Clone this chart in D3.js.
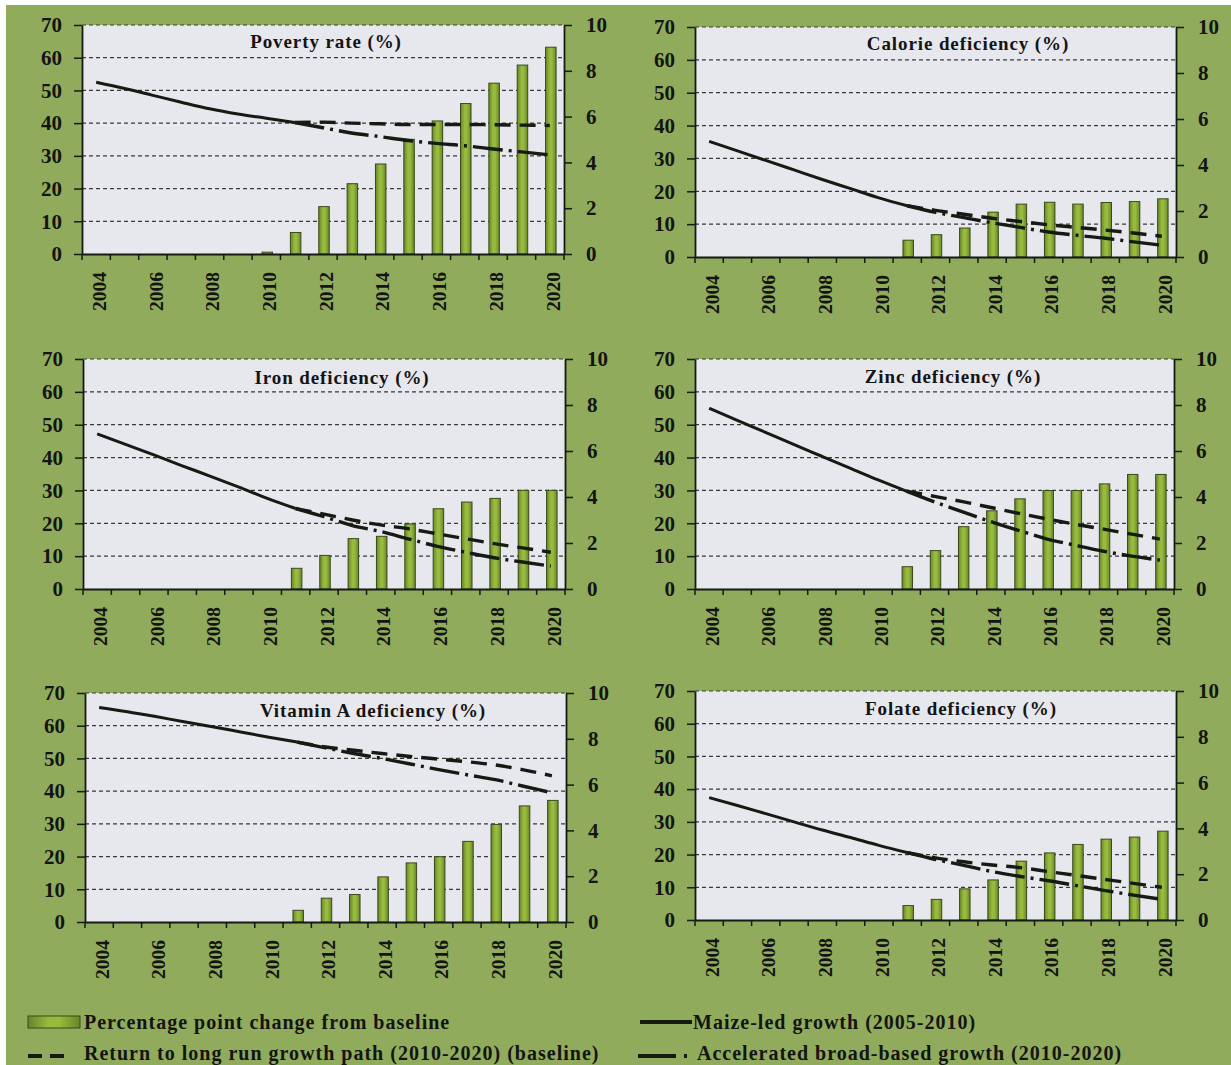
<!DOCTYPE html>
<html>
<head>
<meta charset="utf-8">
<script src="https://cdn.jsdelivr.net/npm/d3@7/dist/d3.min.js"></script>
<style>
  html, body { margin: 0; padding: 0; background: #ffffff; }
  svg { display: block; }
  text { font-family: "Liberation Serif", "DejaVu Serif", serif; font-weight: bold; fill: #141414; }
</style>
</head>
<body>
<svg id="chart" width="1231" height="1065"></svg>
<script>
// ---- categories and tick labels ----
const years = [2004, 2005, 2006, 2007, 2008, 2009, 2010, 2011, 2012, 2013, 2014, 2015, 2016, 2017, 2018, 2019, 2020];
const yearLabels = [2004, 2006, 2008, 2010, 2012, 2014, 2016, 2018, 2020];
const leftTicks = [0, 10, 20, 30, 40, 50, 60, 70];
const rightTicks = [0, 2, 4, 6, 8, 10];

const titles = ["Poverty rate (%)", "Calorie deficiency (%)", "Iron deficiency (%)",
                "Zinc deficiency (%)", "Vitamin A deficiency (%)", "Folate deficiency (%)"];

// ---- series: bars (percentage point change, right axis) ----
const barYears = [2010, 2011, 2012, 2013, 2014, 2015, 2016, 2017, 2018, 2019, 2020];
const povertyChange = [0.08, 0.94, 2.07, 3.07, 3.93, 5.01, 5.81, 6.57, 7.46, 8.25, 9.03];
const calorieChange = [0, 0.73, 0.97, 1.26, 1.95, 2.30, 2.38, 2.30, 2.37, 2.41, 2.53];
const ironChange    = [0, 0.90, 1.46, 2.19, 2.29, 2.83, 3.49, 3.78, 3.94, 4.29, 4.29];
const zincChange    = [0, 0.97, 1.67, 2.71, 3.40, 3.92, 4.28, 4.28, 4.57, 4.98, 4.98];
const vitAChange    = [0, 0.51, 1.04, 1.20, 1.97, 2.58, 2.85, 3.52, 4.26, 5.07, 5.31];
const folateChange  = [0, 0.63, 0.90, 1.36, 1.75, 2.57, 2.93, 3.30, 3.53, 3.62, 3.88];

// ---- series: lines (level in %, left axis) ----
const maizeYears = [2004, 2005, 2006, 2007, 2008, 2009, 2010, 2011];
const povertyMaize = [52.5, 50.6, 48.5, 46.4, 44.4, 42.8, 41.5, 40.2];
const calorieMaize = [35.2, 32.3, 29.4, 26.5, 23.6, 20.8, 18.0, 15.6];
const ironMaize    = [47.2, 44.0, 40.8, 37.5, 34.3, 31.0, 27.6, 24.5];
const zincMaize    = [55.0, 51.3, 47.7, 44.0, 40.4, 36.8, 33.2, 29.8];
const vitAMaize    = [65.6, 64.3, 62.8, 61.2, 59.7, 58.1, 56.5, 55.0];
const folateMaize  = [37.4, 35.0, 32.5, 30.0, 27.5, 25.2, 22.8, 20.6];

const projYears = [2011, 2012, 2013, 2014, 2015, 2016, 2017, 2018, 2019, 2020];
const povertyBase  = [40.2, 40.3, 40.0, 39.8, 39.6, 39.6, 39.6, 39.5, 39.4, 39.3];
const povertyAccel = [40.2, 38.6, 37.0, 35.9, 34.7, 33.8, 33.1, 32.1, 31.2, 30.3];
const calorieBase  = [15.6, 14.2, 13.0, 11.8, 10.8, 9.8, 9.0, 8.2, 7.3, 6.3];
const calorieAccel = [15.6, 13.6, 12.0, 10.4, 9.0, 7.6, 6.6, 5.7, 4.6, 3.6];
const ironBase     = [24.5, 22.8, 21.0, 19.5, 18.3, 16.8, 15.3, 13.8, 12.5, 11.2];
const ironAccel    = [24.5, 22.0, 19.3, 17.5, 15.2, 13.0, 11.2, 9.5, 8.2, 7.0];
const zincBase     = [29.8, 28.2, 26.6, 24.8, 23.0, 21.3, 19.7, 18.2, 16.7, 15.2];
const zincAccel    = [29.8, 26.5, 23.5, 20.5, 17.8, 15.2, 13.3, 11.5, 10.0, 8.8];
const vitABase     = [55.0, 53.5, 52.5, 51.5, 50.6, 49.8, 49.0, 48.0, 46.5, 44.7];
const vitAAccel    = [55.0, 53.2, 51.5, 50.0, 48.3, 46.6, 45.0, 43.5, 41.5, 39.5];
const folateBase   = [20.6, 19.0, 17.8, 16.8, 16.0, 14.8, 13.6, 12.4, 11.2, 10.0];
const folateAccel  = [20.6, 18.5, 16.7, 14.8, 13.3, 12.0, 10.5, 9.0, 7.6, 6.3];

const legendLabels = ["Percentage point change from baseline", "Maize-led growth (2005-2010)",
                      "Return to long run growth path (2010-2020) (baseline)",
                      "Accelerated broad-based growth (2010-2020)"];

const panelSeries = [
  { bars: povertyChange, maize: povertyMaize, base: povertyBase, accel: povertyAccel },
  { bars: calorieChange, maize: calorieMaize, base: calorieBase, accel: calorieAccel },
  { bars: ironChange,    maize: ironMaize,    base: ironBase,    accel: ironAccel },
  { bars: zincChange,    maize: zincMaize,    base: zincBase,    accel: zincAccel },
  { bars: vitAChange,    maize: vitAMaize,    base: vitABase,    accel: vitAAccel },
  { bars: folateChange,  maize: folateMaize,  base: folateBase,  accel: folateAccel }
];

// ---- layout (plot-area boxes and title placement) ----
const frames = [
  { left: 82,  top: 25,  right: 564,  bottom: 254, tx: 244, ty: 23 },
  { left: 695, top: 27,  right: 1176, bottom: 257, tx: 273, ty: 23 },
  { left: 83,  top: 359, right: 565,  bottom: 589, tx: 259, ty: 25 },
  { left: 695, top: 359, right: 1174, bottom: 589, tx: 258, ty: 24 },
  { left: 85,  top: 693, right: 566,  bottom: 922, tx: 288, ty: 24 },
  { left: 695, top: 691, right: 1176, bottom: 920, tx: 266, ty: 24 }
];

const INK = "#151a12";
const BG = "#8fab5b";
const PLOT_BG = "#e7e7ee";
const BASE_DASH = "16,9";
const ACCEL_DASH = "30,6,3,6";

const svg = d3.select("#chart");

const defs = svg.append("defs");
const grad = defs.append("linearGradient").attr("id", "barFill")
  .attr("x1", "0%").attr("x2", "100%").attr("y1", "0%").attr("y2", "0%");
[["0%", "#66852a"], ["40%", "#98bb3e"], ["60%", "#98bb3e"], ["100%", "#66852a"]]
  .forEach(([o, c]) => grad.append("stop").attr("offset", o).attr("stop-color", c));

svg.append("rect").attr("x", 6).attr("y", 5).attr("width", 1225).attr("height", 1060).attr("fill", BG);

panelSeries.forEach((s, i) => {
  const f = frames[i];
  const w = f.right - f.left, h = f.bottom - f.top;
  const g = svg.append("g").attr("transform", `translate(${f.left},${f.top})`);

  const x = d3.scaleBand().domain(years).range([0, w]).padding(0);
  const yL = d3.scaleLinear().domain([0, 70]).range([h, 0]);
  const yR = d3.scaleLinear().domain([0, 10]).range([h, 0]);
  const cx = yr => x(yr) + x.bandwidth() / 2;

  g.append("rect").attr("width", w).attr("height", h).attr("fill", PLOT_BG);

  // horizontal gridlines
  g.selectAll("line.grid").data(leftTicks.filter(t => t > 0)).join("line")
    .attr("class", "grid")
    .attr("x1", 0).attr("x2", w)
    .attr("y1", d => yL(d)).attr("y2", d => yL(d))
    .attr("stroke", "#3a3a3a").attr("stroke-width", 1.2).attr("stroke-dasharray", "4,3");

  // bars: percentage point change
  const bw = x.bandwidth() * 0.37;
  g.selectAll("rect.bar").data(barYears.map((yr, j) => ({ yr, v: s.bars[j] }))).join("rect")
    .attr("class", "bar")
    .attr("x", d => cx(d.yr) - bw / 2 + 1)
    .attr("width", bw)
    .attr("y", d => yR(d.v))
    .attr("height", d => h - yR(d.v))
    .attr("fill", "url(#barFill)")
    .attr("stroke", "#3b4a1a").attr("stroke-width", 1);

  // lines
  const line = d3.line().x(d => cx(d.yr)).y(d => yL(d.v)).curve(d3.curveMonotoneX);
  const pts = (ys, vs) => ys.map((yr, j) => ({ yr, v: vs[j] }));

  g.append("path").datum(pts(projYears, s.base)).attr("d", line)
    .attr("fill", "none").attr("stroke", INK).attr("stroke-width", 3.4)
    .attr("stroke-dasharray", BASE_DASH);
  g.append("path").datum(pts(projYears, s.accel)).attr("d", line)
    .attr("fill", "none").attr("stroke", INK).attr("stroke-width", 3.4)
    .attr("stroke-dasharray", ACCEL_DASH);
  g.append("path").datum(pts(maizeYears, s.maize)).attr("d", line)
    .attr("fill", "none").attr("stroke", INK).attr("stroke-width", 3);

  // axes
  const axL = g.append("g").call(d3.axisLeft(yL).tickValues(leftTicks).tickSize(8).tickSizeOuter(0).tickPadding(12));
  const axR = g.append("g").attr("transform", `translate(${w},0)`)
    .call(d3.axisRight(yR).tickValues(rightTicks).tickSize(8).tickSizeOuter(0).tickPadding(14));
  const axB = g.append("g").attr("transform", `translate(0,${h})`)
    .call(d3.axisBottom(x).tickValues(yearLabels).tickSize(0).tickSizeOuter(0));

  axB.selectAll("text")
    .attr("transform", "rotate(-90)")
    .attr("text-anchor", "end")
    .attr("x", -18).attr("y", 0).attr("dy", "0.5em")
    .style("font-size", "19.5px");

  // ticks at category boundaries along the bottom axis
  const bounds = years.map(yr => x(yr)).concat([w]);
  g.selectAll("line.btick").data(bounds).join("line")
    .attr("class", "btick")
    .attr("x1", d => d).attr("x2", d => d).attr("y1", h).attr("y2", h + 6)
    .attr("stroke", INK).attr("stroke-width", 1.5);

  [axL, axR, axB].forEach(a => {
    a.selectAll("path.domain").attr("stroke", INK).attr("stroke-width", 1.8);
    a.selectAll(".tick line").attr("stroke", INK).attr("stroke-width", 1.5);
    a.attr("font-family", null).attr("font-size", null);
  });
  axL.selectAll("text").style("font-size", "21px").attr("fill", "#141414");
  axR.selectAll("text").style("font-size", "21px").attr("fill", "#141414");
  axB.selectAll("text").attr("fill", "#141414");

  g.append("text").attr("x", f.tx).attr("y", f.ty)
    .attr("text-anchor", "middle").style("font-size", "19px").style("letter-spacing", "0.9px")
    .text(titles[i]);
});

// ---- legend ----
const lg = svg.append("g").style("font-size", "20px").style("letter-spacing", "1px");
lg.append("rect").attr("x", 28).attr("y", 1016).attr("width", 52).attr("height", 12)
  .attr("fill", "url(#barFill)").attr("stroke", "#3b4a1a");
lg.append("text").attr("x", 84).attr("y", 1029).text(legendLabels[0]);

lg.append("line").attr("x1", 640).attr("x2", 692).attr("y1", 1022).attr("y2", 1022)
  .attr("stroke", INK).attr("stroke-width", 4);
lg.append("text").attr("x", 693).attr("y", 1029).text(legendLabels[1]);

lg.append("line").attr("x1", 28).attr("x2", 72).attr("y1", 1056).attr("y2", 1056)
  .attr("stroke", INK).attr("stroke-width", 4).attr("stroke-dasharray", "14,8");
lg.append("text").attr("x", 84).attr("y", 1060).text(legendLabels[2]);

lg.append("line").attr("x1", 638).attr("x2", 690).attr("y1", 1056).attr("y2", 1056)
  .attr("stroke", INK).attr("stroke-width", 4).attr("stroke-dasharray", "38,8,3,20");
lg.append("text").attr("x", 697).attr("y", 1060).text(legendLabels[3]);
</script>
</body>
</html>
